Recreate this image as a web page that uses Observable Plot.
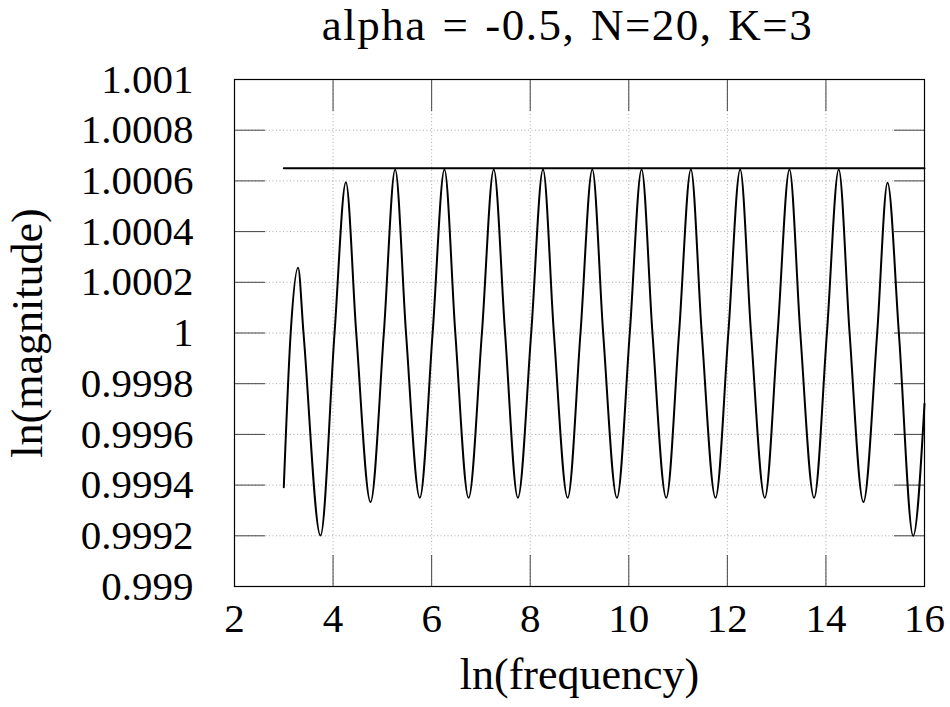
<!DOCTYPE html>
<html>
<head>
<meta charset="utf-8">
<script src="https://cdn.jsdelivr.net/npm/d3@7"></script>
<script src="https://cdn.jsdelivr.net/npm/@observablehq/plot@0.6"></script>
<style>
  html, body { margin: 0; padding: 0; background: #fff; }
  #title { width: 950px; height: 60px; box-sizing: border-box; padding-top: 3px; padding-left: 185px;
    text-align: center; font-family: "Liberation Serif", serif; font-size: 45px; line-height: 45px;
    letter-spacing: 1.5px; word-spacing: 3px; color: #000; white-space: nowrap; }
  svg { display: block; }
</style>
</head>
<body>
<div id="title">alpha = -0.5, N=20, K=3</div>
<div id="chart"></div>
<script>
const chartTitle = "alpha = -0.5, N=20, K=3";
const xLabel = "ln(frequency)";
const yLabel = "ln(magnitude)";

// curve readings (ln frequency, ln magnitude)
const freq = [3.00, 3.14, 3.29, 3.40, 3.745, 4.03, 4.26, 4.47, 4.76, 5.03, 5.26, 5.48, 5.76,
  6.02, 6.26, 6.48, 6.75, 7.02, 7.26, 7.49, 7.75, 8.02, 8.26, 8.48, 8.76,
  9.02, 9.26, 9.48, 9.76, 10.02, 10.26, 10.48, 10.76, 11.02, 11.26, 11.48, 11.76,
  12.02, 12.26, 12.48, 12.76, 13.02, 13.26, 13.48, 13.76, 14.02, 14.26, 14.48, 14.76,
  15.04, 15.25, 15.48, 15.77, 16.00];
const mag = [0.999392, 1.0000, 1.000257, 1.0000, 0.999201, 1.0000, 1.000595, 1.0000, 0.999333, 1.0000, 1.000645, 1.0000, 0.99935,
  1.0000, 1.000645, 1.0000, 0.99935, 1.0000, 1.000645, 1.0000, 0.99935, 1.0000, 1.000645, 1.0000, 0.99935,
  1.0000, 1.000645, 1.0000, 0.99935, 1.0000, 1.000645, 1.0000, 0.99935, 1.0000, 1.000645, 1.0000, 0.99935,
  1.0000, 1.000645, 1.0000, 0.99935, 1.0000, 1.000645, 1.0000, 0.99935, 1.0000, 1.000645, 1.0000, 0.999333,
  1.0000, 1.000593, 1.0000, 0.9992, 0.999721];

// horizontal bound line
const boundFreq = [3, 16];
const boundMag = [1.00065, 1.00065];

const xTicks = [2, 4, 6, 8, 10, 12, 14, 16];
const yTicks = [0.999, 0.9992, 0.9994, 0.9996, 0.9998, 1, 1.0002, 1.0004, 1.0006, 1.0008, 1.001];
const yTickLabels = ["0.999", "0.9992", "0.9994", "0.9996", "0.9998", "1", "1.0002", "1.0004", "1.0006", "1.0008", "1.001"];

const curve = freq.map((f, i) => ({f, m: mag[i]}));
const bound = boundFreq.map((f, i) => ({f, m: boundMag[i]}));

const font = "'Liberation Serif', serif";
const tickStroke = "#444";

const plot = Plot.plot({
  width: 950,
  height: 647,
  marginLeft: 234,
  marginRight: 26,
  marginTop: 19,
  marginBottom: 121,
  style: {fontFamily: font, fontSize: "41px", color: "#000", background: "#fff", overflow: "visible"},
  x: {domain: [2, 16]},
  y: {domain: [0.999, 1.001]},
  marks: [
    Plot.gridX(xTicks, {stroke: "#aaa", strokeOpacity: 1, strokeDasharray: "1,2.5", strokeWidth: 1}),
    Plot.gridY(yTicks, {stroke: "#aaa", strokeOpacity: 1, strokeDasharray: "1,2.5", strokeWidth: 1}),
    // inward tick marks on all four sides
    Plot.axisX(xTicks, {anchor: "bottom", tickSize: -31, stroke: tickStroke, text: null, label: null}),
    Plot.axisX(xTicks, {anchor: "top", tickSize: -31, stroke: tickStroke, text: null, label: null}),
    Plot.axisY(yTicks, {anchor: "left", tickSize: -31, stroke: tickStroke, text: null, label: null}),
    Plot.axisY(yTicks, {anchor: "right", tickSize: -31, stroke: tickStroke, text: null, label: null}),
    // tick labels
    Plot.axisX(xTicks, {anchor: "bottom", tickSize: 0, tickPadding: 16, label: null, fontSize: 41, fill: "#000"}),
    Plot.axisY(yTicks, {anchor: "left", tickSize: 0, tickPadding: 41, label: null, fontSize: 41, fill: "#000",
      tickFormat: (d) => yTickLabels[yTicks.indexOf(d)]}),
    Plot.frame({stroke: "#000", strokeWidth: 1.2}),
    Plot.line(bound, {x: "f", y: "m", stroke: "#000", strokeWidth: 2}),
    Plot.line(curve, {x: "f", y: "m", stroke: "#000", strokeWidth: 2, curve: "monotone-x"}),
    Plot.text([xLabel], {frameAnchor: "bottom", lineAnchor: "middle", textAnchor: "middle", dy: 88, fontSize: 44, fill: "#000"}),
    Plot.text([yLabel], {frameAnchor: "left", lineAnchor: "middle", textAnchor: "middle", dx: -207, rotate: -90, fontSize: 44, fill: "#000"})
  ]
});
document.getElementById("chart").appendChild(plot);
</script>
</body>
</html>
